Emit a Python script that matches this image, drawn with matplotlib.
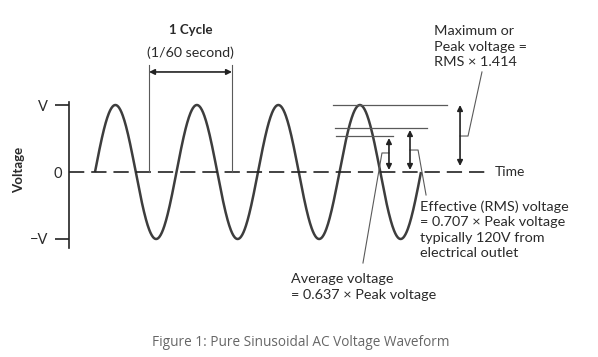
import numpy as np
import matplotlib
matplotlib.use("Agg")
import matplotlib.pyplot as plt

plt.rcParams['lines.scale_dashes'] = False

# ---- data (time in cycles, voltage in units of peak V) ----
n_cycles = 4                 # number of cycles drawn
peak = 1.0                   # peak voltage level (V)
rms_mark = 0.657             # level of RMS line as drawn
avg_mark = 0.537             # level of average line as drawn
cycle_start = 0.663          # start of the "1 Cycle" bracket
cycle_len = 1.018            # bracket length (one period)
ytick_vals = [1, -1]
ytick_labels = ["V", "\u2212V"]

FONT = ["Lato", "DejaVu Sans"]
WAVE = "#3d3d3d"
THIN = "#5a5a5a"
TXT = "#2a2a2a"

fig = plt.figure(figsize=(5.98, 3.57), dpi=100)
fig.patch.set_facecolor("white")

# pixel mapping: x_px = 95 + 81.5 t ; y_px = 172 - 67 v
ax = fig.add_axes([69 / 598, 0, 529 / 598, 1])
ax.set_xlim(-26 / 81.5, 503 / 81.5)
ax.set_ylim(-185 / 67, 172 / 67)
for s in ["top", "right", "bottom"]:
    ax.spines[s].set_visible(False)
ax.spines["left"].set_bounds(-76 / 67, 70 / 67)
ax.spines["left"].set_linewidth(1.2)
ax.spines["left"].set_color("#222222")
ax.set_xticks([])
ax.set_yticks(ytick_vals)
ax.set_yticklabels(ytick_labels, fontfamily=FONT, fontsize=10.5, color=TXT)
ax.tick_params(axis="y", which="major", length=10, width=1.2, color="#222222", pad=5)
ax.set_yticks([0], minor=True)
ax.set_yticklabels(["0"], minor=True, fontfamily=FONT, fontsize=10.5, color=TXT)
ax.tick_params(axis="y", which="minor", length=0, pad=5)
ax.set_ylabel("Voltage", fontfamily=FONT, fontsize=9.5, fontweight="bold", color=TXT)
ax.yaxis.set_label_coords(-44 / 529, (357 - 170) / 357)

# sine wave
t = np.linspace(0, n_cycles, 800)
ax.plot(t, peak * np.sin(2 * np.pi * t), color=WAVE, lw=1.8, solid_capstyle="butt")

# dashed time axis
ax.plot([-26 / 81.5, 4.785], [0, 0], color="#222222", lw=1.2, dashes=(11, 5))
ax.text(4.908, 0, "Time", fontfamily=FONT, fontsize=10, va="center", ha="left", color=TXT)

# cycle bracket
c0, c1 = cycle_start, cycle_start + cycle_len
for c in (c0, c1):
    ax.plot([c, c], [0, 1.597], color=THIN, lw=0.8)
ax.annotate("", xy=(c0, 1.493), xytext=(c1, 1.493),
            arrowprops=dict(arrowstyle="<|-|>", color="#222222", lw=1.2,
                            shrinkA=0, shrinkB=0, mutation_scale=8))
ax.text((c0 + c1) / 2, 2.12, "1 Cycle", fontfamily=FONT, fontsize=9.5,
        fontweight="bold", ha="center", va="center", color=TXT)
ax.text((c0 + c1) / 2, 1.776, "(1/60 second)", fontfamily=FONT, fontsize=10.3,
        ha="center", va="center", color=TXT)

# level lines
ax.plot([2.92, 4.319], [peak, peak], color=THIN, lw=0.9)
ax.plot([2.945, 4.074], [rms_mark, rms_mark], color=THIN, lw=0.9)
ax.plot([2.957, 3.656], [avg_mark, avg_mark], color=THIN, lw=0.9)

def darrow(x, y0, y1):
    ax.annotate("", xy=(x, y1), xytext=(x, y0),
                arrowprops=dict(arrowstyle="<|-|>", color="#222222", lw=1.2,
                                shrinkA=0, shrinkB=0, mutation_scale=8))

darrow(3.607, 0.03, avg_mark - 0.03)
darrow(3.865, 0.03, rms_mark - 0.03)
darrow(4.479, 0.09, peak)

# leader lines
ax.plot([4.479, 4.577, 4.748], [0.537, 0.537, 1.493], color=THIN, lw=0.8)
ax.plot([3.865, 3.964, 4.062], [0.328, 0.328, -0.343], color=THIN, lw=0.8)
ax.plot([3.607, 3.521, 3.288], [0.284, 0.284, -1.358], color=THIN, lw=0.8)

# annotations
FS = 10.4
LS = 1.36
ax.text(4.16, 2.19, "Maximum or\nPeak voltage =\nRMS \u00d7 1.414", fontfamily=FONT,
        fontsize=FS, va="top", ha="left", color=TXT, linespacing=LS)
ax.text(3.988, -0.418, "Effective (RMS) voltage\n= 0.707 \u00d7 Peak voltage\ntypically 120V from\nelectrical outlet",
        fontfamily=FONT, fontsize=FS, va="top", ha="left", color=TXT, linespacing=LS)
ax.text(2.405, -1.51, "Average voltage\n= 0.637 \u00d7 Peak voltage", fontfamily=FONT,
        fontsize=FS, va="top", ha="left", color=TXT, linespacing=LS)

fig.text(301 / 598, 1 - 342 / 357, "Figure 1: Pure Sinusoidal AC Voltage Waveform",
         fontfamily=["Open Sans", "DejaVu Sans"], fontsize=9.8, color="#666666",
         ha="center", va="center")

fig.savefig("out.png", dpi=100, facecolor="white")
